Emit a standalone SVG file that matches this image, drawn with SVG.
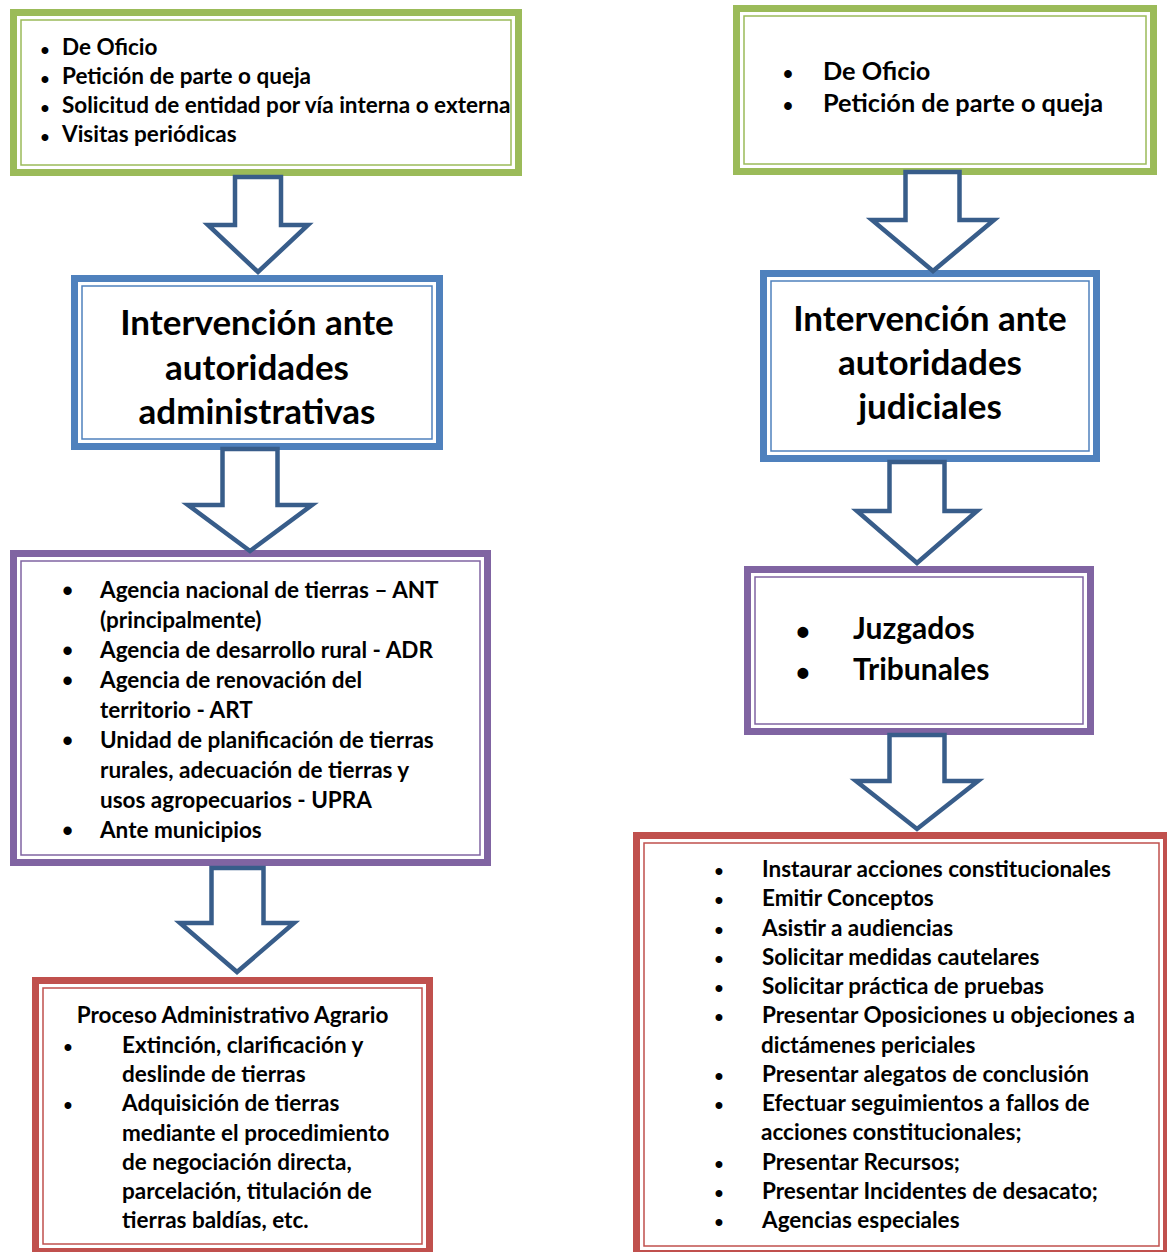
<svg xmlns="http://www.w3.org/2000/svg" width="1167" height="1252" viewBox="0 0 1167 1252">
<style>
.bg{fill:#ffffff}
.thick{fill:#ffffff;stroke-width:7}
.thin{fill:none;stroke-width:1.5}
.green{stroke:#9bbb59}
.blue{stroke:#4f81bd}
.purple{stroke:#8064a2}
.red{stroke:#c0504d}
.arrow{fill:#ffffff;stroke:#385d8a;stroke-width:4.5;stroke-linejoin:miter}
text{font-family:Lato,"Liberation Sans",sans-serif;font-weight:bold;fill:#000000}
.t{font-size:22.5px}
.t5{font-size:25.3px}
.title{font-size:35px;text-anchor:middle}
.t7{font-size:30px}
.b{font-family:"Liberation Sans",sans-serif;text-anchor:middle}
.bs{font-size:24px}
.bm{font-size:27px}
.bl{font-size:29px}
.bx{font-size:38px}
</style>
<rect class="bg" x="0" y="0" width="1167" height="1252"/>

<g id="node-origen-admin">
<rect class="thick green" x="13.5" y="12.5" width="505" height="160"/>
<rect class="thin green" x="21" y="20" width="490" height="145"/>
<text class="b bs" x="45" y="57.5">•</text><text class="t" x="62" y="54.5">De Oficio</text>
<text class="b bs" x="45" y="86.7">•</text><text class="t" x="62" y="83.7">Petición de parte o queja</text>
<text class="b bs" x="45" y="115.9">•</text><text class="t" x="62" y="112.9">Solicitud de entidad por vía interna o externa</text>
<text class="b bs" x="45" y="145">•</text><text class="t" x="62" y="142">Visitas periódicas</text>
</g>

<g id="node-intervencion-admin">
<rect class="thick blue" x="74.5" y="278.5" width="365" height="168"/>
<rect class="thin blue" x="82" y="286" width="350" height="153"/>
<text class="title" x="257" y="335">Intervención ante</text>
<text class="title" x="257" y="380">autoridades</text>
<text class="title" x="257" y="424">administrativas</text>
</g>

<g id="node-entidades-admin">
<rect class="thick purple" x="13.5" y="553.5" width="474" height="309"/>
<rect class="thin purple" x="21" y="561" width="459" height="294"/>
<text class="b bl" x="67.5" y="601">•</text><text class="t" x="100" y="598">Agencia nacional de tierras – ANT</text>
<text class="t" x="100" y="628">(principalmente)</text>
<text class="b bl" x="67.5" y="661">•</text><text class="t" x="100" y="658">Agencia de desarrollo rural - ADR</text>
<text class="b bl" x="67.5" y="691">•</text><text class="t" x="100" y="688">Agencia de renovación del</text>
<text class="t" x="100" y="718">territorio - ART</text>
<text class="b bl" x="67.5" y="751">•</text><text class="t" x="100" y="748">Unidad de planificación de tierras</text>
<text class="t" x="100" y="778">rurales, adecuación de tierras y</text>
<text class="t" x="100" y="808">usos agropecuarios - UPRA</text>
<text class="b bl" x="67.5" y="841">•</text><text class="t" x="100" y="838">Ante municipios</text>
</g>

<g id="node-proceso-agrario">
<rect class="thick red" x="35.5" y="980.5" width="394" height="271"/>
<rect class="thin red" x="43" y="988" width="379" height="256"/>
<text class="t" x="232.5" y="1023" text-anchor="middle">Proceso Administrativo Agrario</text>
<text class="b bs" x="68" y="1054.5">•</text><text class="t" x="122" y="1053">Extinción, clarificación y</text>
<text class="t" x="122" y="1082">deslinde de tierras</text>
<text class="b bs" x="68" y="1112.5">•</text><text class="t" x="122" y="1111">Adquisición de tierras</text>
<text class="t" x="122" y="1141">mediante el procedimiento</text>
<text class="t" x="122" y="1170">de negociación directa,</text>
<text class="t" x="122" y="1199">parcelación, titulación de</text>
<text class="t" x="122" y="1228">tierras baldías, etc.</text>
</g>

<g id="node-origen-judicial">
<rect class="thick green" x="736.5" y="8.5" width="417" height="163"/>
<rect class="thin green" x="744" y="16" width="402" height="148"/>
<text class="b bm" x="788" y="83">•</text><text class="t5" x="823" y="80">De Oficio</text>
<text class="b bm" x="788" y="115">•</text><text class="t5" x="823" y="112">Petición de parte o queja</text>
</g>

<g id="node-intervencion-judicial">
<rect class="thick blue" x="763.5" y="273.5" width="333" height="185"/>
<rect class="thin blue" x="771" y="281" width="318" height="170"/>
<text class="title" x="930" y="331">Intervención ante</text>
<text class="title" x="930" y="375">autoridades</text>
<text class="title" x="930" y="419">judiciales</text>
</g>

<g id="node-juzgados">
<rect class="thick purple" x="747.5" y="569.5" width="343" height="162"/>
<rect class="thin purple" x="755" y="577" width="328" height="147"/>
<text class="b bx" x="803" y="645">•</text><text class="t7" x="853" y="639">Juzgados</text>
<text class="b bx" x="803" y="686">•</text><text class="t7" x="853" y="680">Tribunales</text>
</g>

<g id="node-acciones-judiciales">
<rect class="thick red" x="636.5" y="835.5" width="530" height="418"/>
<rect class="thin red" x="644" y="843" width="515" height="403"/>
<text class="b bs" x="719" y="879">•</text><text class="t" x="762" y="877">Instaurar acciones constitucionales</text>
<text class="b bs" x="719" y="908.2">•</text><text class="t" x="762" y="906.2">Emitir Conceptos</text>
<text class="b bs" x="719" y="937.5">•</text><text class="t" x="762" y="935.5">Asistir a audiencias</text>
<text class="b bs" x="719" y="966.7">•</text><text class="t" x="762" y="964.7">Solicitar medidas cautelares</text>
<text class="b bs" x="719" y="996">•</text><text class="t" x="762" y="994">Solicitar práctica de pruebas</text>
<text class="b bs" x="719" y="1025.2">•</text><text class="t" x="762" y="1023.2">Presentar Oposiciones u objeciones a</text>
<text class="t" x="761" y="1052.5">dictámenes periciales</text>
<text class="b bs" x="719" y="1083.7">•</text><text class="t" x="762" y="1081.7">Presentar alegatos de conclusión</text>
<text class="b bs" x="719" y="1113">•</text><text class="t" x="762" y="1111">Efectuar seguimientos a fallos de</text>
<text class="t" x="761" y="1140.2">acciones constitucionales;</text>
<text class="b bs" x="719" y="1171.5">•</text><text class="t" x="762" y="1169.5">Presentar Recursos;</text>
<text class="b bs" x="719" y="1200.7">•</text><text class="t" x="762" y="1198.7">Presentar Incidentes de desacato;</text>
<text class="b bs" x="719" y="1230">•</text><text class="t" x="762" y="1228">Agencias especiales</text>
</g>

<g id="connectors">
<path class="arrow" d="M235,177 H281 V225 H308 L258,272 L208,225 H235 Z"/>
<path class="arrow" d="M222.5,449 H277.5 V505 H312 L250,551 L188,505 H222.5 Z"/>
<path class="arrow" d="M211.5,868 H263.5 V923 H294 L237,972 L180,923 H211.5 Z"/>
<path class="arrow" d="M905.5,172 H959.5 V220 H994 L933,271 L872,220 H905.5 Z"/>
<path class="arrow" d="M889.5,462 H944.5 V511 H977 L917,563 L857,511 H889.5 Z"/>
<path class="arrow" d="M889.5,735 H944.5 V781 H978 L917,829 L856,781 H889.5 Z"/>
</g>
</svg>
